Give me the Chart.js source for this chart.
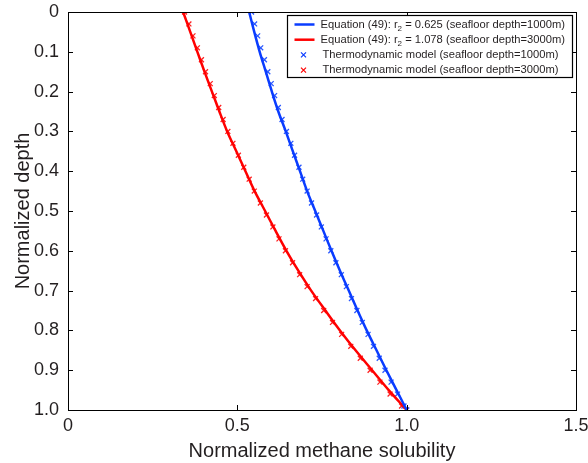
<!DOCTYPE html>
<html>
<head>
<meta charset="utf-8">
<script src="https://cdn.jsdelivr.net/npm/chart.js@4.4.1/dist/chart.umd.min.js"></script>
<style>
  html, body { margin: 0; padding: 0; background: #fff; }
  #wrap { width: 588px; height: 463px; }
</style>
</head>
<body>
<div id="wrap"><canvas id="myChart" width="588" height="463"></canvas></div>
<script>
  // normalized depth for the Equation (49) curves
  var lineDepth = [0, 0.05, 0.10, 0.15, 0.20, 0.25, 0.30, 0.35, 0.40, 0.45, 0.50,
                   0.55, 0.60, 0.65, 0.70, 0.75, 0.80, 0.85, 0.90, 0.95, 1.0];
  var eq1000 = [0.535, 0.550, 0.566, 0.584, 0.602, 0.621, 0.643, 0.664, 0.685, 0.706, 0.730,
                0.754, 0.778, 0.803, 0.829, 0.855, 0.882, 0.911, 0.940, 0.970, 1.0];
  var eq3000 = [0.340, 0.361, 0.382, 0.403, 0.425, 0.447, 0.470, 0.497, 0.524, 0.551, 0.582,
                0.613, 0.645, 0.680, 0.718, 0.760, 0.803, 0.849, 0.898, 0.947, 1.0];

  // thermodynamic model points
  var modelDepth = [0, 0.03, 0.06, 0.09, 0.12, 0.15, 0.18, 0.21, 0.24, 0.27, 0.30, 0.33,
                    0.36, 0.39, 0.42, 0.45, 0.48, 0.51, 0.54, 0.57, 0.60, 0.63, 0.66,
                    0.69, 0.72, 0.75, 0.78, 0.81, 0.84, 0.87, 0.90, 0.93, 0.96, 0.99, 1.0];
  var model1000 = [0.542, 0.551, 0.560, 0.569, 0.580, 0.590, 0.600, 0.610, 0.621, 0.632, 0.645, 0.658,
                   0.669, 0.682, 0.693, 0.706, 0.719, 0.734, 0.748, 0.762, 0.776, 0.791, 0.807,
                   0.822, 0.837, 0.853, 0.869, 0.886, 0.902, 0.919, 0.936, 0.954, 0.973, 0.992, 1.0];
  var model3000 = [0.344, 0.357, 0.369, 0.382, 0.394, 0.406, 0.420, 0.432, 0.445, 0.458, 0.472, 0.487,
                   0.503, 0.519, 0.535, 0.550, 0.568, 0.586, 0.605, 0.623, 0.642, 0.663, 0.684,
                   0.706, 0.731, 0.755, 0.781, 0.808, 0.835, 0.863, 0.892, 0.921, 0.951, 0.985, 1.0];

  var xTicks = [0, 0.5, 1.0, 1.5];
  var yTicks = [0, 0.1, 0.2, 0.3, 0.4, 0.5, 0.6, 0.7, 0.8, 0.9, 1.0];

  var legendItems = [
    { kind: 'line', color: '#0a3cff', pre: 'Equation (49): r', sub: '2', post: ' = 0.625 (seafloor depth=1000m)' },
    { kind: 'line', color: '#ff0000', pre: 'Equation (49): r', sub: '2', post: ' = 1.078 (seafloor depth=3000m)' },
    { kind: 'cross', color: '#0a3cff', pre: 'Thermodynamic model (seafloor depth=1000m)' },
    { kind: 'cross', color: '#ff0000', pre: 'Thermodynamic model (seafloor depth=3000m)' }
  ];

  function pts(xs, ys) {
    return xs.map(function (v, i) { return { x: v, y: ys[i] }; });
  }

  var FONT = "'Liberation Sans', Arial, sans-serif";
  var TXT = '#231f20';
  var LEG = '11.2px ' + FONT;

  // box, inward ticks and legend, matlab style
  var frame = {
    id: 'frame',
    afterDraw: function (chart) {
      var c = chart.ctx, a = chart.chartArea;
      var xs = chart.scales.x, ys = chart.scales.y;
      c.save();
      c.strokeStyle = '#000';
      c.lineWidth = 1;
      c.beginPath();
      xTicks.forEach(function (t) {
        var p = Math.round(xs.getPixelForValue(t)) + 0.5;
        c.moveTo(p, a.bottom); c.lineTo(p, a.bottom - 5);
        c.moveTo(p, a.top); c.lineTo(p, a.top + 5);
      });
      yTicks.forEach(function (t) {
        var p = Math.round(ys.getPixelForValue(t)) + 0.5;
        c.moveTo(a.left, p); c.lineTo(a.left + 5, p);
        c.moveTo(a.right, p); c.lineTo(a.right - 5, p);
      });
      c.stroke();
      c.strokeRect(Math.round(a.left) + 0.5, Math.round(a.top) + 0.5,
                   Math.round(a.right - a.left), Math.round(a.bottom - a.top));

      // legend
      var bx = Math.round(a.right) - 288.5, by = Math.round(a.top) + 3.5, bw = 285, bh = 62;
      c.fillStyle = '#fff';
      c.fillRect(bx, by, bw, bh);
      c.lineWidth = 1.2;
      c.strokeRect(bx, by, bw, bh);
      c.textBaseline = 'middle';
      legendItems.forEach(function (it, i) {
        var y = by + 9 + i * 15.2;
        c.strokeStyle = it.color;
        if (it.kind === 'line') {
          c.lineWidth = 2.5;
          c.beginPath(); c.moveTo(bx + 7, y); c.lineTo(bx + 27, y); c.stroke();
        } else {
          c.lineWidth = 1.2;
          var mx = bx + 16, r = 2.5;
          c.beginPath();
          c.moveTo(mx - r, y - r); c.lineTo(mx + r, y + r);
          c.moveTo(mx - r, y + r); c.lineTo(mx + r, y - r);
          c.stroke();
        }
        c.fillStyle = TXT;
        c.font = LEG;
        var tx = bx + (it.kind === 'line' ? 33 : 35);
        c.fillText(it.pre, tx, y);
        if (it.sub) {
          tx += c.measureText(it.pre).width;
          c.font = '8px ' + FONT;
          c.fillText(it.sub, tx, y + 4);
          tx += c.measureText(it.sub).width;
          c.font = LEG;
          c.fillText(it.post, tx, y);
        }
      });
      c.restore();
    }
  };

  var ctx = document.getElementById('myChart').getContext('2d');
  var myChart = new Chart(ctx, {
    type: 'scatter',
    data: {
      datasets: [{
        label: 'Equation (49) 1000m',
        data: pts(eq1000, lineDepth),
        showLine: true,
        borderColor: '#0a3cff',
        borderWidth: 2.5,
        pointRadius: 0,
        tension: 0.3,
        order: 1
      }, {
        label: 'Equation (49) 3000m',
        data: pts(eq3000, lineDepth),
        showLine: true,
        borderColor: '#ff0000',
        borderWidth: 2.5,
        pointRadius: 0,
        tension: 0.3,
        order: 1
      }, {
        label: 'Thermodynamic model 1000m',
        data: pts(model1000, modelDepth),
        pointStyle: 'crossRot',
        pointRadius: 3.5,
        borderWidth: 1.3,
        borderColor: '#2a58ff',
        order: 2
      }, {
        label: 'Thermodynamic model 3000m',
        data: pts(model3000, modelDepth),
        pointStyle: 'crossRot',
        pointRadius: 3.5,
        borderWidth: 1.3,
        borderColor: '#ff2020',
        order: 2
      }]
    },
    options: {
      responsive: false,
      animation: false,
      events: [],
      layout: { padding: { top: 12, right: 12, left: 11, bottom: 0 } },
      plugins: { legend: { display: false }, tooltip: { enabled: false } },
      scales: {
        x: {
          type: 'linear',
          min: 0, max: 1.5,
          afterBuildTicks: function (s) { s.ticks = xTicks.map(function (v) { return { value: v }; }); },
          afterFit: function (s) { s.height = 53; s.paddingLeft = 0; s.paddingRight = 0; },
          grid: { display: false, drawTicks: false },
          border: { display: false },
          ticks: {
            padding: 5,
            color: TXT,
            font: { family: FONT, size: 18 },
            maxRotation: 0,
            callback: function (v) { return v === 0 ? '0' : v.toFixed(1); }
          },
          title: {
            display: true,
            text: 'Normalized methane solubility',
            color: TXT,
            font: { family: FONT, size: 20 },
            padding: { top: 1, bottom: 0 }
          }
        },
        y: {
          type: 'linear',
          reverse: true,
          min: 0, max: 1,
          afterBuildTicks: function (s) { s.ticks = yTicks.map(function (v) { return { value: v }; }); },
          afterFit: function (s) { s.width = 57; s.paddingTop = 0; s.paddingBottom = 0; },
          grid: { display: false, drawTicks: false },
          border: { display: false },
          ticks: {
            padding: 9,
            color: TXT,
            font: { family: FONT, size: 18 },
            callback: function (v) { return v === 0 ? '0' : v.toFixed(1); }
          },
          title: {
            display: true,
            text: 'Normalized depth',
            color: TXT,
            font: { family: FONT, size: 20 },
            padding: { top: 0, bottom: 0 }
          }
        }
      }
    },
    plugins: [frame]
  });
</script>
</body>
</html>
